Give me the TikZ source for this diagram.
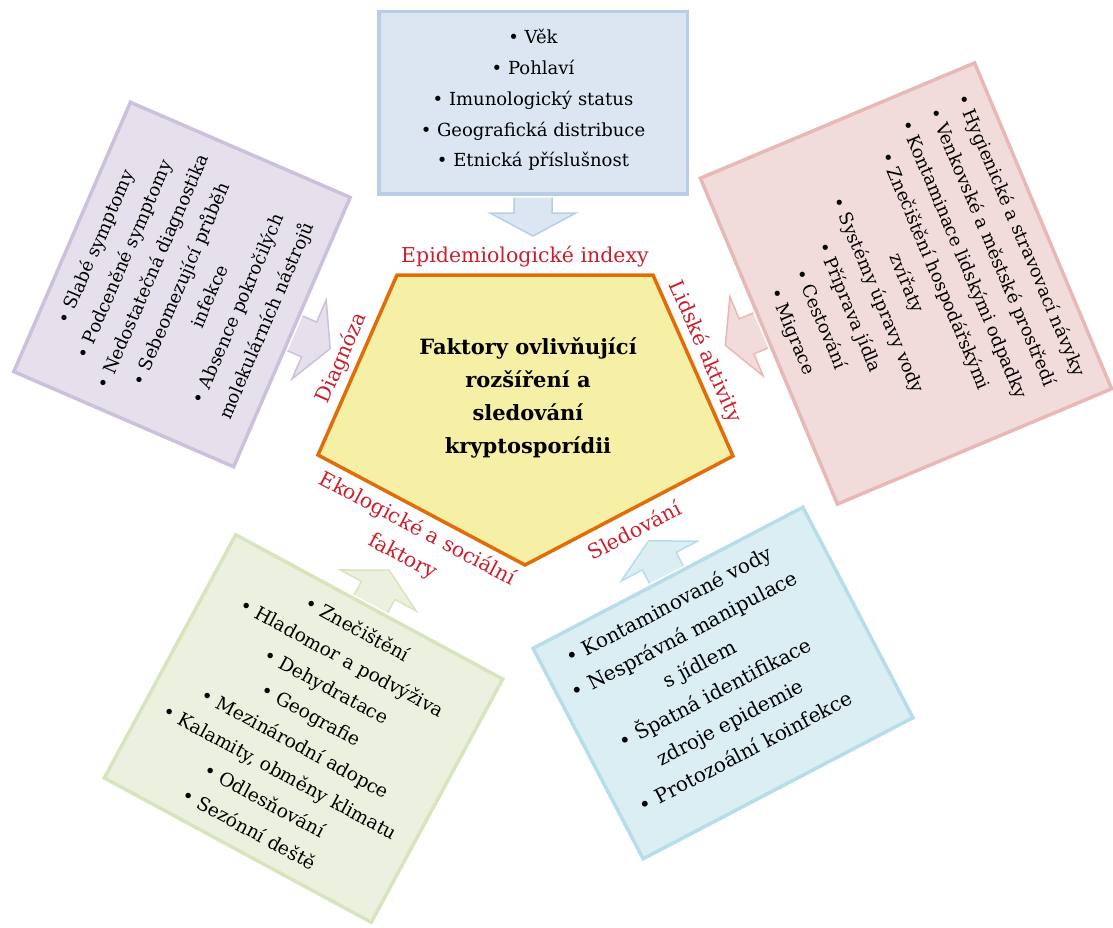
\documentclass[tikz,border=0pt]{standalone}
\usepackage{fontspec}
\setmainfont{DejaVu Serif}
\usepackage{tikz}
\usetikzlibrary{positioning, calc}
\definecolor{AgeFill}{HTML}{DCE6F2}
\definecolor{AgeLine}{HTML}{B9CDE5}
\definecolor{HabitFill}{HTML}{F2DCDB}
\definecolor{HabitLine}{HTML}{E6B9B8}
\definecolor{EcoFill}{HTML}{EBF1DE}
\definecolor{EcoLine}{HTML}{D7E4BD}
\definecolor{WatchFill}{HTML}{DAEEF3}
\definecolor{WatchLine}{HTML}{B7DDE8}
\definecolor{DiagFill}{HTML}{E5E0EC}
\definecolor{DiagLine}{HTML}{CCC1DA}
\definecolor{CoreFill}{HTML}{F5F0A6}
\definecolor{CoreLine}{HTML}{E36C0A}
\definecolor{LabelRed}{HTML}{CC1F2E}

\tikzset{
  factorbox/.style={draw, line width=3.5pt, inner sep=0pt},
  factortext/.style={align=center, inner sep=0pt},
  sidelabel/.style={text=LabelRed, align=center, inner sep=0pt, font=\fontsize{20.5}{31}\selectfont},
  pics/blockarrow/.style 2 args={code={
    \filldraw[fill=#1, draw=#2, line width=1.5pt] (-19,-1.75) -- (-19,-17) -- (-43,-17) -- (0,-40) -- (43,-17) -- (19,-17) -- (19,-1.75);
  }},
}

\begin{document}
\begin{tikzpicture}[x=1pt, y=1pt]
    \useasboundingbox (0,0) rectangle (1113,-928);

    \coordinate (TL) at (397,-275);
    \coordinate (TR) at (653,-275);
    \coordinate (R) at (733,-456);
    \coordinate (B) at (525,-565);
    \coordinate (L) at (318,-455);
    \filldraw[fill=CoreFill, draw=CoreLine, line width=3.5pt, line join=miter] (TL) -- (TR) -- (R) -- (B) -- (L) -- cycle;
    \node[factortext, font=\bfseries\fontsize{21}{33}\selectfont] (core) at (528,-398)
        {Faktory ovlivňující\\ rozšíření a\\ sledování\\ kryptosporídii};

    \node[sidelabel] (epi) at (525,-257) {Epidemiologické indexy};
    \node[sidelabel, rotate=-66.3] (human) at (705,-352) {Lidské aktivity};
    \node[sidelabel, rotate=66.3] (diag) at (342,-358) {Diagnóza};
    \node[sidelabel, rotate=27.5] (watch) at (634,-530) {Sledování};
    \node[sidelabel, rotate=-28] (eco) at (410,-543) {Ekologické a sociální\\ faktory};

    \begin{scope}[shift={(533,-103)}]
        \node[factorbox, fill=AgeFill, draw=AgeLine, minimum width=308.5, minimum height=182.5] (AgeBox) {};
        \node[factortext, font=\fontsize{18}{30.7}\selectfont] (AgeText) at (0,3)
            {• Věk\\ • Pohlaví\\ • Imunologický status\\ • Geografická distribuce\\ • Etnická příslušnost};
        \pic at (AgeBox.south) {blockarrow={AgeFill}{AgeLine}};
    \end{scope}

    \begin{scope}[shift={(906,-283.5)}, rotate=-67.2, transform shape]
        \node[factorbox, fill=HabitFill, draw=HabitLine, minimum width=353.5, minimum height=297.5] (HabitBox) {};
        \node[factortext, font=\fontsize{18}{31}\selectfont] (HabitText) at (0,0)
            {• Hygienické a stravovací návyky\\ • Venkovské a městské prostředí\\ • Kontaminace lidskými odpadky\\ • Znečištění hospodářskými\\ zvířaty\\ • Systémy úpravy vody\\ • Příprava jídla\\ • Cestování\\ • Migrace};
        \pic at ($(HabitBox.south)!0.073!(HabitBox.south west)$) {blockarrow={HabitFill}{HabitLine}};
    \end{scope}

    \begin{scope}[shift={(723,-683)}, rotate=27.6, transform shape]
        \node[factorbox, fill=WatchFill, draw=WatchLine, minimum width=304.5, minimum height=237.5] (WatchBox) {};
        \node[factortext, font=\fontsize{20}{33}\selectfont] (WatchText) at (-12,12)
            {• Kontaminované vody\\ • Nesprávná manipulace\\ s jídlem\\ • Špatná identifikace\\ zdroje epidemie\\ • Protozoální koinfekce};
        \pic[rotate=180] at (WatchBox.north) {blockarrow={WatchFill}{WatchLine}};
    \end{scope}

    \begin{scope}[shift={(303.5,-728.5)}, rotate=-28.4, transform shape]
        \node[factorbox, fill=EcoFill, draw=EcoLine, minimum width=303.5, minimum height=276.5] (EcoBox) {};
        \node[factortext, font=\fontsize{18.7}{32.5}\selectfont] (EcoText) at (0,0)
            {• Znečištění\\ • Hladomor a podvýživa\\ • Dehydratace\\ • Geografie\\ • Mezinárodní adopce\\ • Kalamity, obměny klimatu\\ • Odlesňování\\ • Sezónní deště};
        \pic[rotate=180] at (EcoBox.north) {blockarrow={EcoFill}{EcoLine}};
    \end{scope}

    \begin{scope}[shift={(182,-284.5)}, rotate=66.6, transform shape]
        \node[factorbox, fill=DiagFill, draw=DiagLine, minimum width=293.5, minimum height=239.5] (DiagBox) {};
        \node[factortext, font=\fontsize{18}{31}\selectfont] (DiagText) at (0,0)
            {• Slabé symptomy\\ • Podceněné symptomy\\ • Nedostatečná diagnostika\\ • Sebeomezující průběh\\ infekce\\ • Absence pokročilých\\ molekulárních nástrojů};
        \pic at (DiagBox.south) {blockarrow={DiagFill}{DiagLine}};
    \end{scope}
\end{tikzpicture}
\end{document}
